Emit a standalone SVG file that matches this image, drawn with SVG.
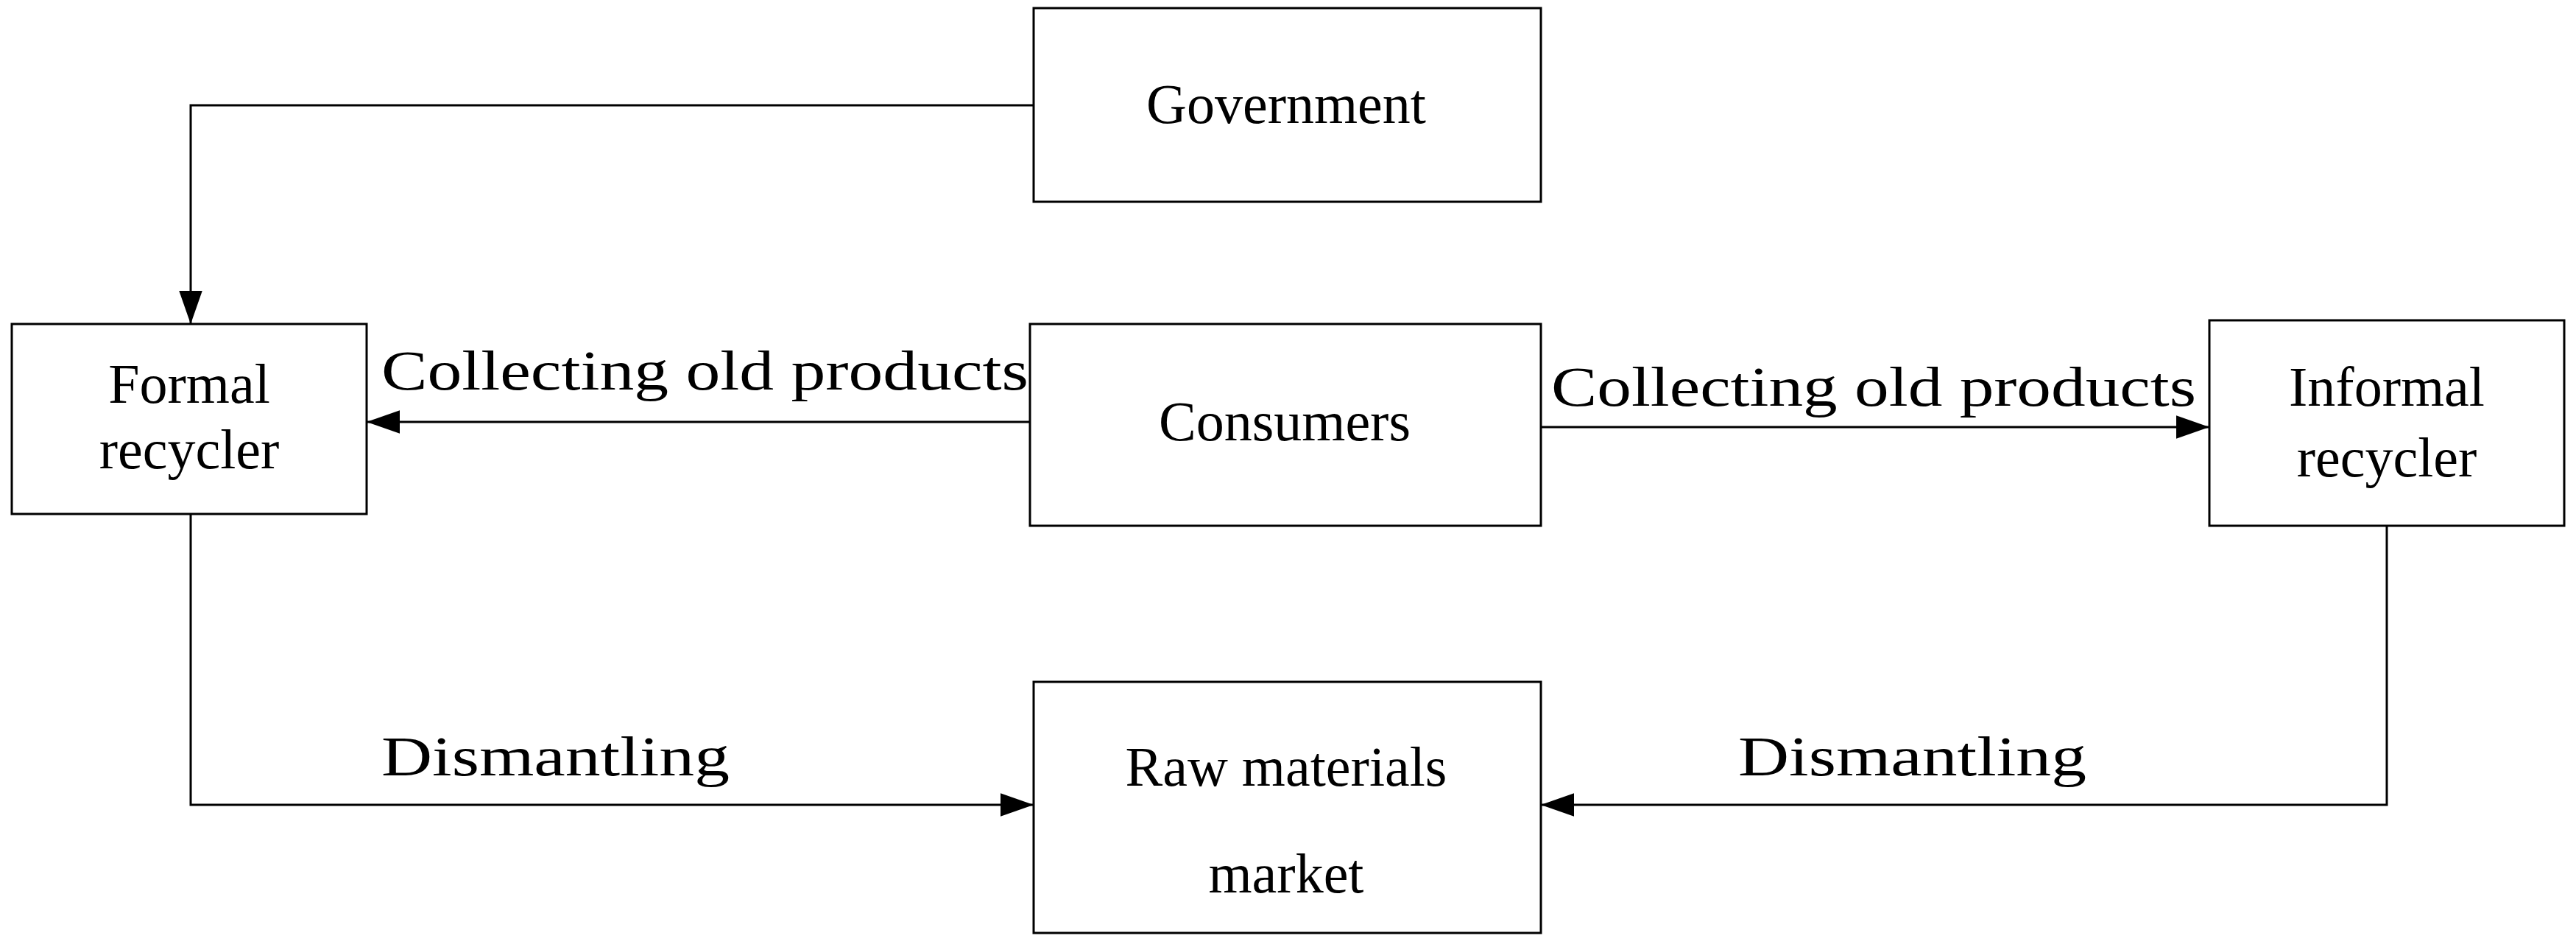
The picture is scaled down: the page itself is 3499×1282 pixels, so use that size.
<svg xmlns="http://www.w3.org/2000/svg" width="3499" height="1282" viewBox="0 0 3499 1282">
<style>
.box{fill:#fff;stroke:#000;stroke-width:3}
.ln{fill:none;stroke:#000;stroke-width:3}
text{font-family:"Liberation Serif","DejaVu Serif",serif;font-size:76px;fill:#000}
.c{text-anchor:middle}
</style>
<defs><marker id="a" viewBox="0 0 10 10" refX="10" refY="5" markerWidth="14" markerHeight="14" markerUnits="userSpaceOnUse" orient="auto"><path d="M0,0L10,5L0,10z" fill="#000" transform="scale(1)"/></marker>
<marker id="b" viewBox="0 0 10 10" refX="10" refY="5" markerWidth="45" markerHeight="45" markerUnits="userSpaceOnUse" orient="auto"><path d="M0,1.5L10,5L0,8.5z" fill="#000"/></marker></defs>
<rect width="3499" height="1282" fill="#fff"/>
<g id="connectors">
<path class="ln" d="M1404,143H259V440" marker-end="url(#b)"/>
<path class="ln" d="M1399,573H498" marker-end="url(#b)"/>
<path class="ln" d="M2093,580H3001" marker-end="url(#b)"/>
<path class="ln" d="M259,698V1093H1404" marker-end="url(#b)"/>
<path class="ln" d="M3242,714V1093H2093" marker-end="url(#b)"/>
<text x="518" y="529" textLength="879" lengthAdjust="spacingAndGlyphs">Collecting old products</text>
<text x="2107" y="551" textLength="876" lengthAdjust="spacingAndGlyphs">Collecting old products</text>
<text x="518" y="1053" textLength="473" lengthAdjust="spacingAndGlyphs">Dismantling</text>
<text x="2361" y="1053" textLength="473" lengthAdjust="spacingAndGlyphs">Dismantling</text>
</g>
<g id="government"><rect class="box" x="1404" y="11" width="689" height="263"/><text class="c" x="1747" y="167">Government</text></g>
<g id="formal"><rect class="box" x="16" y="440" width="482" height="258"/><text class="c" x="257" y="547">Formal</text><text class="c" x="257" y="636">recycler</text></g>
<g id="consumers"><rect class="box" x="1399" y="440" width="694" height="274"/><text class="c" x="1745" y="598">Consumers</text></g>
<g id="informal"><rect class="box" x="3001" y="435" width="482" height="279"/><text class="c" x="3242" y="551">Informal</text><text class="c" x="3242" y="647">recycler</text></g>
<g id="raw"><rect class="box" x="1404" y="926" width="689" height="341"/><text class="c" x="1747" y="1067">Raw materials</text><text class="c" x="1747" y="1212">market</text></g>
</svg>
